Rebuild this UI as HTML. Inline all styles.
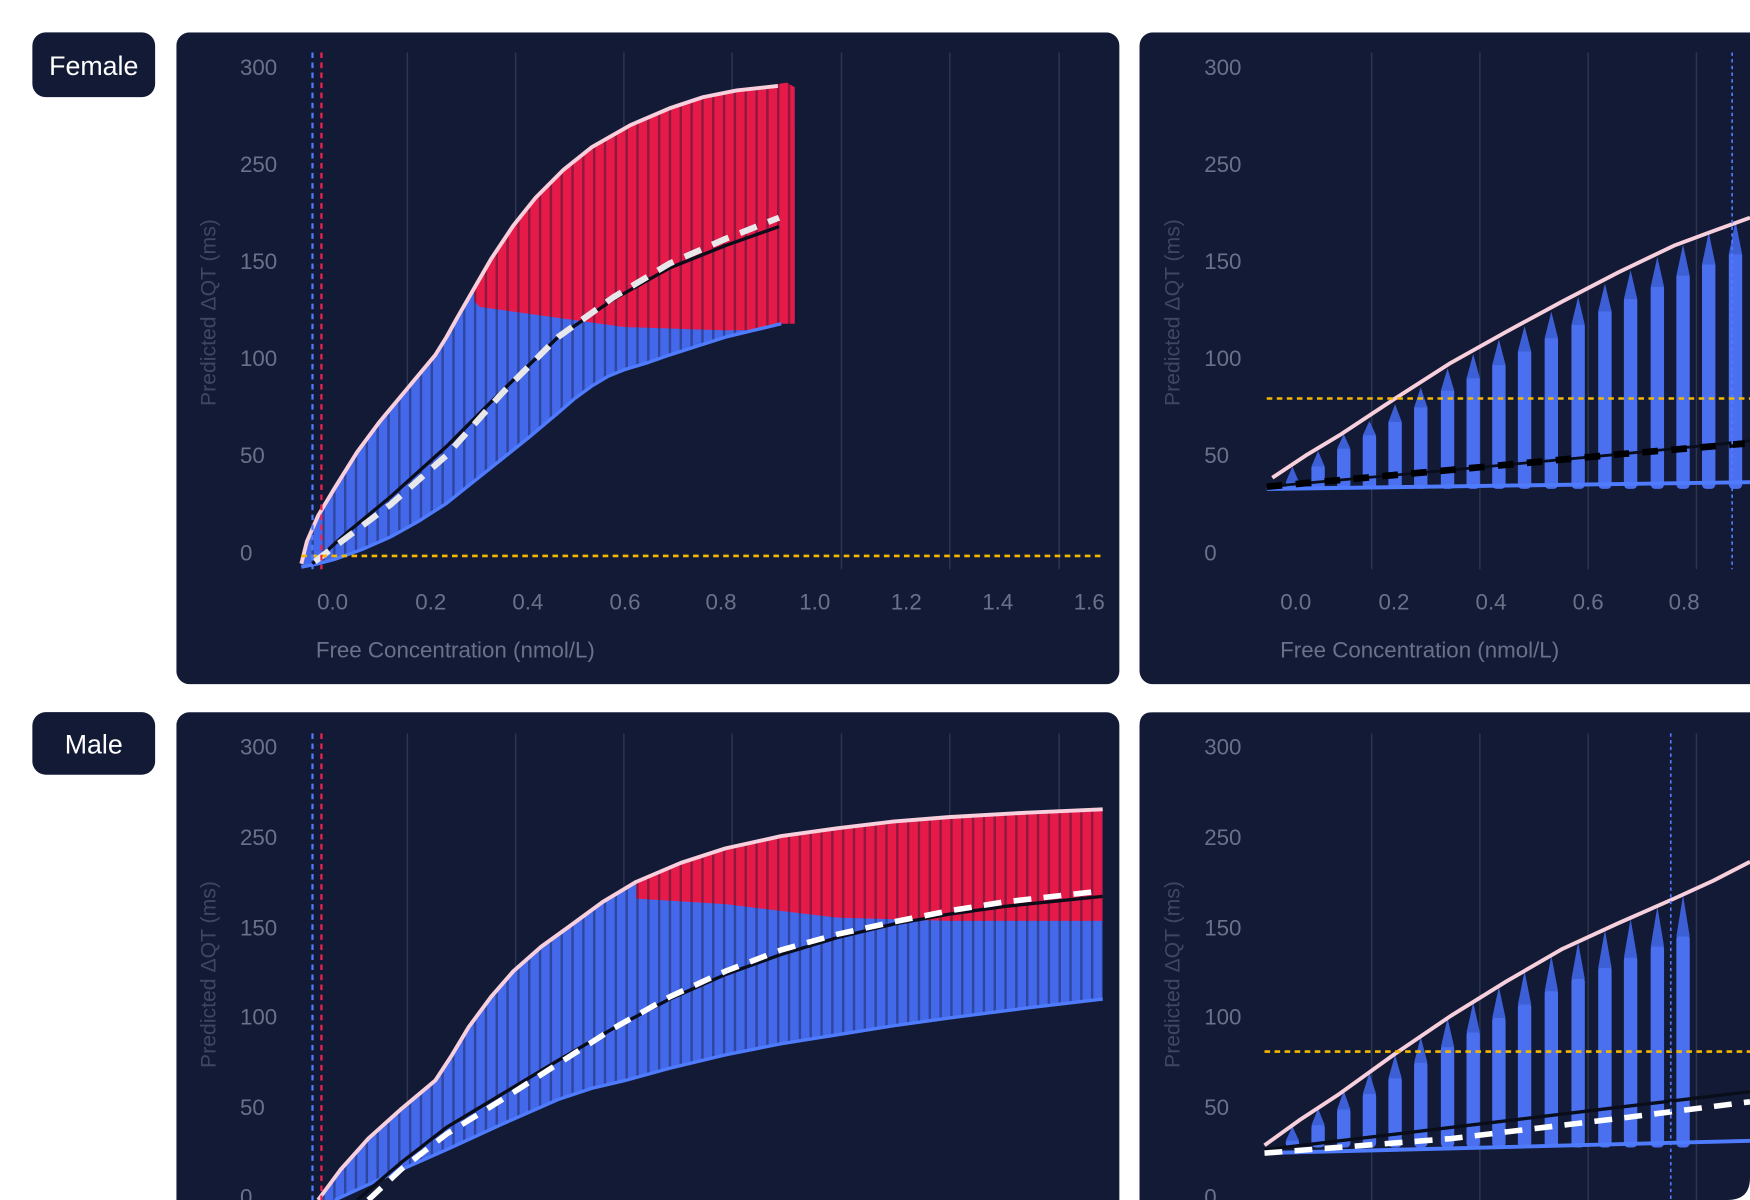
<!DOCTYPE html>
<html><head><meta charset="utf-8"><style>
html,body{margin:0;padding:0;background:#fff;width:1750px;height:1200px;overflow:hidden}
svg{display:block}
text{font-family:"Liberation Sans",sans-serif}
</style></head><body>
<svg width="1750" height="1200" viewBox="0 0 1568 1075" preserveAspectRatio="none" xmlns="http://www.w3.org/2000/svg">
<defs>
<pattern id="st" width="9.7" height="10" patternUnits="userSpaceOnUse"><rect x="7.5" y="0" width="2.2" height="10" fill="#0f1530" opacity="0.4"/></pattern>
<clipPath id="c1"><rect x="158" y="29" width="845" height="584" rx="12"/></clipPath>
<clipPath id="c3"><rect x="158" y="638" width="845" height="460" rx="12"/></clipPath>
<clipPath id="c2"><rect x="1021" y="29" width="580" height="584" rx="12"/></clipPath>
<clipPath id="c4"><path d="M1033,638 L1600,638 L1568,638 L1568,1055 Q1568,1075 1548,1075 L1021,1075 L1021,650 Q1021,638 1033,638 Z"/></clipPath>
</defs>
<rect width="1568" height="1075" fill="#fff"/>
<rect x="29" y="29" width="110" height="58" rx="12" fill="#131a35"/>
<text x="84" y="67" font-size="24" fill="#fff" text-anchor="middle">Female</text>
<rect x="29" y="638" width="110" height="56" rx="12" fill="#131a35"/>
<text x="84" y="675" font-size="24" fill="#fff" text-anchor="middle">Male</text>

<!-- PANEL 1 -->
<g clip-path="url(#c1)">
<rect x="158" y="29" width="845" height="584" fill="#131a35"/>
<g stroke="#2d3552" stroke-width="1.3">
<line x1="365" y1="47" x2="365" y2="510"/><line x1="462" y1="47" x2="462" y2="510"/><line x1="559" y1="47" x2="559" y2="510"/><line x1="656" y1="47" x2="656" y2="510"/><line x1="754" y1="47" x2="754" y2="510"/><line x1="851" y1="47" x2="851" y2="510"/><line x1="949" y1="47" x2="949" y2="510"/>
</g>
<g font-size="20" fill="#6b7189">
<text x="215" y="67">300</text><text x="215" y="154">250</text><text x="215" y="241">150</text><text x="215" y="328">100</text><text x="215" y="415">50</text><text x="215" y="502">0</text>
<g text-anchor="middle"><text x="298" y="546">0.0</text><text x="386" y="546">0.2</text><text x="473" y="546">0.4</text><text x="560" y="546">0.6</text><text x="646" y="546">0.8</text><text x="730" y="546">1.0</text><text x="812" y="546">1.2</text><text x="894" y="546">1.4</text><text x="976" y="546">1.6</text></g>
<text x="283" y="589">Free Concentration (nmol/L)</text>
<text transform="translate(193,280) rotate(-90)" text-anchor="middle" font-size="19" fill="#3e4662">Predicted ΔQT (ms)</text>
</g>
<path id="f1" d="M270,505 L275,485 L285,462 L300,437 L320,405 L340,378 L365,348 L390,318 L400,302 L410,284 L425,258 L440,232 L460,202 L480,177 L505,152 L530,132 L565,112 L600,97 L630,87 L660,81 L705,76 L712,78 L712,508 L270,508 Z" fill="#4468ea"/>
<path d="M425,270 L425,258 L440,232 L460,202 L480,177 L505,152 L530,132 L565,112 L600,97 L630,87 L660,81 L705,74 L712,78 L712,295 L650,296 L560,293 L480,282 L430,275 Z" fill="#e61a48"/>
<path d="M270,505 L275,485 L285,462 L300,437 L320,405 L340,378 L365,348 L390,318 L400,302 L410,284 L425,258 L440,232 L460,202 L480,177 L505,152 L530,132 L565,112 L600,97 L630,87 L660,81 L705,74 L712,78 L712,508 L270,508 Z" fill="url(#st)"/>
<path d="M270,508 L285,505 L300,501 L325,492 L350,481 L375,467 L400,451 L425,431 L450,411 L475,391 L500,370 L515,357 L530,346 L545,337 L560,331 L580,325 L600,318 L625,310 L650,302 L675,296 L700,290 L714,290 L714,520 L265,520 Z" fill="#131a35"/>
<path d="M270,508 L285,505 L300,501 L325,492 L350,481 L375,467 L400,451 L425,431 L450,411 L475,391 L500,370 L515,357 L530,346 L545,337 L560,331 L580,325 L600,318 L625,310 L650,302 L675,296 L700,290" fill="none" stroke="#4f7cff" stroke-width="3"/>
<path d="M270,505 L275,485 L285,462 L300,437 L320,405 L340,378 L365,348 L390,318 L400,302 L410,284 L425,258 L440,232 L460,202 L480,177 L505,152 L530,132 L565,112 L600,97 L630,87 L660,81 L697,77" fill="none" stroke="#f8cfdc" stroke-width="3.5" stroke-linejoin="round"/>
<path d="M280,505 L310,478 L350,445 L400,400 L450,350 L500,302 L550,268 L600,240 L650,220 L698,203" fill="none" stroke="#0a0d1a" stroke-width="3" stroke-linejoin="round"/>
<path d="M282,503 L310,482 L350,452 L400,408 L450,352 L500,302 L550,266 L600,236 L650,214 L698,195" fill="none" stroke="#e8e8ea" stroke-width="5.5" stroke-dasharray="16 11"/>
<line x1="270" y1="498" x2="990" y2="498" stroke="#f5b800" stroke-width="2.3" stroke-dasharray="5 4"/>
<line x1="280" y1="47" x2="280" y2="510" stroke="#4f7cff" stroke-width="2" stroke-dasharray="5 4"/>
<line x1="288" y1="47" x2="288" y2="510" stroke="#f0224f" stroke-width="2" stroke-dasharray="5 4"/>
</g>

<!-- PANEL 3 -->
<g clip-path="url(#c3)">
<rect x="158" y="638" width="845" height="460" fill="#131a35"/>
<g stroke="#2d3552" stroke-width="1.3">
<line x1="365" y1="657" x2="365" y2="1075"/><line x1="462" y1="657" x2="462" y2="1075"/><line x1="559" y1="657" x2="559" y2="1075"/><line x1="656" y1="657" x2="656" y2="1075"/><line x1="754" y1="657" x2="754" y2="1075"/><line x1="851" y1="657" x2="851" y2="1075"/><line x1="949" y1="657" x2="949" y2="1075"/>
</g>
<g font-size="20" fill="#6b7189">
<text x="215" y="676">300</text><text x="215" y="757">250</text><text x="215" y="838">150</text><text x="215" y="918">100</text><text x="215" y="999">50</text><text x="215" y="1079">0</text>
</g>
<text transform="translate(193,873) rotate(-90)" text-anchor="middle" font-size="19" fill="#3e4662">Predicted ΔQT (ms)</text>
<path d="M285,1075 L305,1048 L330,1020 L360,993 L390,968 L405,945 L420,920 L440,893 L460,870 L485,848 L510,830 L540,808 L570,790 L610,773 L650,760 L700,749 L750,742 L800,736 L850,732 L920,728 L988,725 L988,1080 L285,1080 Z" fill="#4468ea"/>
<path d="M570,790 L610,773 L650,760 L700,749 L750,742 L800,736 L850,732 L920,728 L988,725 L988,825 L850,825 L750,822 L650,810 L570,805 Z" fill="#e61a48"/>
<path d="M285,1075 L305,1048 L330,1020 L360,993 L390,968 L405,945 L420,920 L440,893 L460,870 L485,848 L510,830 L540,808 L570,790 L610,773 L650,760 L700,749 L750,742 L800,736 L850,732 L920,728 L988,725 L988,1080 L285,1080 Z" fill="url(#st)"/>
<path d="M300,1075 L350,1052 L400,1030 L450,1007 L500,985 L530,975 L560,968 L600,957 L650,945 L700,935 L750,927 L800,919 L850,912 L920,903 L988,895 L992,895 L992,1085 L295,1085 Z" fill="#131a35"/>
<path d="M300,1075 L350,1052 L400,1030 L450,1007 L500,985 L530,975 L560,968 L600,957 L650,945 L700,935 L750,927 L800,919 L850,912 L920,903 L988,895" fill="none" stroke="#4f7cff" stroke-width="3"/>
<path d="M285,1075 L305,1048 L330,1020 L360,993 L390,968 L405,945 L420,920 L440,893 L460,870 L485,848 L510,830 L540,808 L570,790 L610,773 L650,760 L700,749 L750,742 L800,736 L850,732 L920,728 L988,725" fill="none" stroke="#f8cfdc" stroke-width="3.5" stroke-linejoin="round"/>
<path d="M320,1075 L360,1041 L400,1010 L450,980 L500,950 L550,921 L600,895 L650,873 L700,855 L750,840 L800,828 L850,819 L900,812 L988,803" fill="none" stroke="#0a0d1a" stroke-width="3" stroke-linejoin="round"/>
<path d="M330,1075 L360,1047 L400,1016 L450,985 L500,953 L550,921 L600,893 L650,870 L700,851 L750,837 L800,826 L850,816 L900,808 L988,798" fill="none" stroke="#fff" stroke-width="5" stroke-dasharray="16 11"/>
<line x1="280" y1="657" x2="280" y2="1075" stroke="#4f7cff" stroke-width="2" stroke-dasharray="5 4"/>
<line x1="288" y1="657" x2="288" y2="1075" stroke="#f0224f" stroke-width="2" stroke-dasharray="5 4"/>
</g>

<!-- PANEL 2 -->
<g clip-path="url(#c2)">
<rect x="1021" y="29" width="580" height="584" fill="#131a35"/>
<g stroke="#2d3552" stroke-width="1.3">
<line x1="1229" y1="47" x2="1229" y2="510"/><line x1="1326" y1="47" x2="1326" y2="510"/><line x1="1423" y1="47" x2="1423" y2="510"/><line x1="1520" y1="47" x2="1520" y2="510"/>
</g>
<g font-size="20" fill="#6b7189">
<text x="1079" y="67">300</text><text x="1079" y="154">250</text><text x="1079" y="241">150</text><text x="1079" y="328">100</text><text x="1079" y="415">50</text><text x="1079" y="502">0</text>
<g text-anchor="middle"><text x="1161" y="546">0.0</text><text x="1249" y="546">0.2</text><text x="1336" y="546">0.4</text><text x="1423" y="546">0.6</text><text x="1509" y="546">0.8</text></g>
<text x="1147" y="589">Free Concentration (nmol/L)</text>
</g>
<text transform="translate(1057,280) rotate(-90)" text-anchor="middle" font-size="19" fill="#3e4662">Predicted ΔQT (ms)</text>
<g fill="#4a70f0">
<rect x="1152" y="430" width="12" height="8" rx="4"/><path d="M1152,432 L1158,418 L1164,432Z" fill="#3d5fd6"/>
<rect x="1175" y="415" width="12" height="23" rx="4"/><path d="M1175,418 L1181,404 L1187,418Z" fill="#3d5fd6"/>
<rect x="1198" y="400" width="12" height="38" rx="4"/><path d="M1198,402 L1204,389 L1210,402Z" fill="#3d5fd6"/>
<rect x="1221" y="388" width="12" height="50" rx="4"/><path d="M1221,390 L1227,377 L1233,390Z" fill="#3d5fd6"/>
<rect x="1244" y="375" width="12" height="63" rx="4"/><path d="M1244,378 L1250,362 L1256,378Z" fill="#3d5fd6"/>
<rect x="1267" y="362" width="12" height="76" rx="4"/><path d="M1267,365 L1273,347 L1279,365Z" fill="#3d5fd6"/>
<rect x="1291" y="347" width="12" height="91" rx="4"/><path d="M1291,350 L1297,330 L1303,350Z" fill="#3d5fd6"/>
<rect x="1314" y="336" width="12" height="102" rx="4"/><path d="M1314,339 L1320,317 L1326,339Z" fill="#3d5fd6"/>
<rect x="1337" y="324" width="12" height="114" rx="4"/><path d="M1337,327 L1343,304 L1349,327Z" fill="#3d5fd6"/>
<rect x="1360" y="312" width="12" height="126" rx="4"/><path d="M1360,315 L1366,292 L1372,315Z" fill="#3d5fd6"/>
<rect x="1384" y="300" width="12" height="138" rx="4"/><path d="M1384,303 L1390,279 L1396,303Z" fill="#3d5fd6"/>
<rect x="1408" y="288" width="12" height="150" rx="4"/><path d="M1408,291 L1414,266 L1420,291Z" fill="#3d5fd6"/>
<rect x="1432" y="276" width="12" height="162" rx="4"/><path d="M1432,279 L1438,254 L1444,279Z" fill="#3d5fd6"/>
<rect x="1455" y="265" width="12" height="173" rx="4"/><path d="M1455,268 L1461,242 L1467,268Z" fill="#3d5fd6"/>
<rect x="1479" y="254" width="12" height="184" rx="4"/><path d="M1479,257 L1485,230 L1491,257Z" fill="#3d5fd6"/>
<rect x="1502" y="244" width="12" height="194" rx="4"/><path d="M1502,247 L1508,219 L1514,247Z" fill="#3d5fd6"/>
<rect x="1525" y="234" width="12" height="204" rx="4"/><path d="M1525,237 L1531,208 L1537,237Z" fill="#3d5fd6"/>
<rect x="1549" y="225" width="12" height="213" rx="4"/><path d="M1549,228 L1555,198 L1561,228Z" fill="#3d5fd6"/>
</g>
<path d="M1135,438 L1568,432" stroke="#4f7cff" stroke-width="3.5" fill="none"/>
<path d="M1135,436 L1300,421 L1450,407 L1568,395" stroke="#0a0d1a" stroke-width="2.5" fill="none"/>
<path d="M1135,436 L1300,421 L1450,407 L1568,397" stroke="#000" stroke-width="6" stroke-dasharray="14 12" fill="none"/>
<path d="M1140,428 L1170,408 L1200,390 L1250,357 L1300,325 L1350,297 L1400,270 L1450,244 L1500,220 L1535,207 L1568,195" stroke="#f8cfdc" stroke-width="3.5" fill="none" stroke-linejoin="round"/>
<line x1="1135" y1="357" x2="1568" y2="357" stroke="#f5b800" stroke-width="2.3" stroke-dasharray="5 4"/>
<line x1="1552" y1="47" x2="1552" y2="510" stroke="#4f7cff" stroke-width="1.5" stroke-dasharray="3 3"/>
</g>

<!-- PANEL 4 -->
<g clip-path="url(#c4)">
<rect x="1021" y="638" width="547" height="437" fill="#131a35"/>
<g stroke="#2d3552" stroke-width="1.3">
<line x1="1229" y1="657" x2="1229" y2="1075"/><line x1="1326" y1="657" x2="1326" y2="1075"/><line x1="1423" y1="657" x2="1423" y2="1075"/><line x1="1520" y1="657" x2="1520" y2="1075"/>
</g>
<g font-size="20" fill="#6b7189">
<text x="1079" y="676">300</text><text x="1079" y="757">250</text><text x="1079" y="838">150</text><text x="1079" y="918">100</text><text x="1079" y="999">50</text><text x="1079" y="1079">0</text>
</g>
<text transform="translate(1057,873) rotate(-90)" text-anchor="middle" font-size="19" fill="#3e4662">Predicted ΔQT (ms)</text>
<g fill="#4a70f0">
<rect x="1152" y="1020" width="12" height="8" rx="4"/><path d="M1152,1022 L1158,1009 L1164,1022Z" fill="#3d5fd6"/>
<rect x="1175" y="1006" width="12" height="22" rx="4"/><path d="M1175,1008 L1181,993 L1187,1008Z" fill="#3d5fd6"/>
<rect x="1198" y="992" width="12" height="36" rx="4"/><path d="M1198,994 L1204,977 L1210,994Z" fill="#3d5fd6"/>
<rect x="1221" y="978" width="12" height="50" rx="4"/><path d="M1221,980 L1227,961 L1233,980Z" fill="#3d5fd6"/>
<rect x="1244" y="964" width="12" height="64" rx="4"/><path d="M1244,966 L1250,945 L1256,966Z" fill="#3d5fd6"/>
<rect x="1267" y="950" width="12" height="78" rx="4"/><path d="M1267,952 L1273,929 L1279,952Z" fill="#3d5fd6"/>
<rect x="1291" y="936" width="12" height="92" rx="4"/><path d="M1291,938 L1297,912 L1303,938Z" fill="#3d5fd6"/>
<rect x="1314" y="923" width="12" height="105" rx="4"/><path d="M1314,925 L1320,898 L1326,925Z" fill="#3d5fd6"/>
<rect x="1337" y="910" width="12" height="118" rx="4"/><path d="M1337,912 L1343,884 L1349,912Z" fill="#3d5fd6"/>
<rect x="1360" y="898" width="12" height="130" rx="4"/><path d="M1360,900 L1366,870 L1372,900Z" fill="#3d5fd6"/>
<rect x="1384" y="886" width="12" height="142" rx="4"/><path d="M1384,888 L1390,856 L1396,888Z" fill="#3d5fd6"/>
<rect x="1408" y="875" width="12" height="153" rx="4"/><path d="M1408,877 L1414,844 L1420,877Z" fill="#3d5fd6"/>
<rect x="1432" y="865" width="12" height="163" rx="4"/><path d="M1432,867 L1438,833 L1444,867Z" fill="#3d5fd6"/>
<rect x="1455" y="856" width="12" height="172" rx="4"/><path d="M1455,858 L1461,823 L1467,858Z" fill="#3d5fd6"/>
<rect x="1479" y="846" width="12" height="182" rx="4"/><path d="M1479,848 L1485,812 L1491,848Z" fill="#3d5fd6"/>
<rect x="1502" y="837" width="12" height="191" rx="4"/><path d="M1502,839 L1508,802 L1514,839Z" fill="#3d5fd6"/>
</g>
<path d="M1133,1033 L1568,1022" stroke="#4f7cff" stroke-width="3.5" fill="none"/>
<path d="M1133,1030 L1300,1010 L1450,992 L1568,978" stroke="#0a0d1a" stroke-width="3" fill="none"/>
<path d="M1133,1033 L1300,1020 L1450,1002 L1568,987" stroke="#fff" stroke-width="5" stroke-dasharray="16 11" fill="none"/>
<path d="M1133,1026 L1165,1003 L1200,980 L1250,944 L1300,910 L1350,879 L1400,850 L1450,827 L1500,805 L1535,789 L1568,772" stroke="#f8cfdc" stroke-width="3.5" fill="none" stroke-linejoin="round"/>
<line x1="1133" y1="942" x2="1568" y2="942" stroke="#f5b800" stroke-width="2.3" stroke-dasharray="5 4"/>
<line x1="1497" y1="657" x2="1497" y2="1075" stroke="#4f7cff" stroke-width="1.5" stroke-dasharray="3 3"/>
</g>
</svg>
</body></html>
